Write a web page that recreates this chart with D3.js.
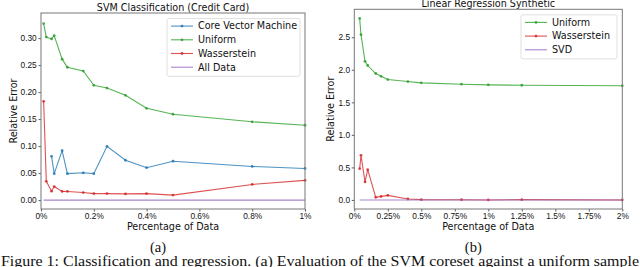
<!DOCTYPE html>
<html>
<head>
<meta charset="utf-8">
<script src="https://cdn.jsdelivr.net/npm/d3@7"></script>
<style>
  body { margin: 0; background: #fff; }
  svg { display: block; font-family: "DejaVu Sans", sans-serif; }
  .tick text { font-size: 8.3px; fill: #111; }
  .title, .axis-label, .legend-text { font-size: 9.6px; fill: #111; }
  .caption { font-family: "Liberation Serif", serif; font-size: 14.5px; fill: #111; }
</style>
</head>
<body>
<div id="chart"></div>
<script>
// ---- data: (a) SVM classification, credit card ----
const svmPct      = [0.01, 0.02, 0.04, 0.05, 0.08, 0.1, 0.16, 0.2, 0.25, 0.32, 0.4, 0.5, 0.8, 1.0];
const svmUniform  = [0.327, 0.302, 0.2985, 0.3045, 0.261, 0.246, 0.239, 0.2125, 0.2075, 0.194, 0.170, 0.159, 0.145, 0.1386];
const svmWass     = [0.183, 0.0348, 0.0165, 0.025, 0.016, 0.016, 0.014, 0.012, 0.012, 0.0115, 0.012, 0.0092, 0.029, 0.0366];
const svmAllData  = [0, 0, 0, 0, 0, 0, 0, 0, 0, 0, 0, 0, 0, 0];
const cvmPct      = [0.04, 0.05, 0.08, 0.1, 0.16, 0.2, 0.25, 0.32, 0.4, 0.5, 0.8, 1.0];
const cvmValues   = [0.081, 0.049, 0.0916, 0.049, 0.0505, 0.049, 0.0995, 0.0738, 0.060, 0.072, 0.0623, 0.0586];
const svmXTicks   = [0, 0.2, 0.4, 0.6, 0.8, 1.0];
const svmYTicks   = [0, 0.05, 0.10, 0.15, 0.20, 0.25, 0.30];

// ---- data: (b) linear regression, synthetic ----
const linPct      = [0.04, 0.05, 0.08, 0.1, 0.16, 0.2, 0.25, 0.4, 0.5, 0.8, 1.0, 1.25, 2.0];
const linUniform  = [2.79, 2.54, 2.13, 2.066, 1.943, 1.90, 1.85, 1.82, 1.80, 1.779, 1.769, 1.763, 1.754];
const linWass     = [0.48, 0.686, 0.277, 0.466, 0.04, 0.055, 0.071, 0.015, 0.005, 0.003, 0.0, 0.005, 0.0];
const linSvd      = [0, 0, 0, 0, 0, 0, 0, 0, 0, 0, 0, 0, 0];
const linXTicks   = [0, 0.25, 0.5, 0.75, 1.0, 1.25, 1.5, 1.75, 2.0];
const linYTicks   = [0, 0.5, 1.0, 1.5, 2.0, 2.5];

const colours = { blue: "#1f77b4", green: "#2ca02c", red: "#d62728", purple: "#9467bd" };

const width = 640, height = 267;
const svg = d3.select("#chart").append("svg")
    .attr("width", width).attr("height", height);

const drawPanel = (p) => {
    const x = d3.scaleLinear().domain(p.xDomain).range([p.left, p.right]);
    const y = d3.scaleLinear().domain(p.yDomain).range([p.bottom, p.top]);
    const g = svg.append("g");

    // axes
    g.append("g")
        .attr("transform", `translate(0,${p.bottom})`)
        .call(d3.axisBottom(x).tickValues(p.xTicks).tickSize(2.5).tickPadding(2)
            .tickFormat(d => d3.format("~g")(d) + "%"))
        .call(a => a.select(".domain").remove());
    g.append("g")
        .attr("transform", `translate(${p.left},0)`)
        .call(d3.axisLeft(y).tickValues(p.yTicks).tickSize(2.5).tickPadding(1.8)
            .tickFormat(d3.format(p.yFormat)))
        .call(a => a.select(".domain").remove());
    g.selectAll(".tick line").attr("stroke", "#333").attr("stroke-width", 0.8);

    // series
    const line = d3.line().x(d => x(d[0])).y(d => y(d[1]));
    p.series.forEach(s => {
        const pts = d3.zip(s.x, s.y);
        g.append("path").datum(pts)
            .attr("d", line)
            .attr("fill", "none")
            .attr("stroke", s.colour)
            .attr("stroke-opacity", 0.8)
            .attr("stroke-width", 1.1);
        if (s.markers) {
            g.selectAll(null).data(pts).join("circle")
                .attr("cx", d => x(d[0])).attr("cy", d => y(d[1]))
                .attr("r", 1.4)
                .attr("fill", s.colour).attr("fill-opacity", 0.85);
        }
    });

    // frame
    g.append("rect")
        .attr("x", p.left).attr("y", p.top)
        .attr("width", p.right - p.left).attr("height", p.bottom - p.top)
        .attr("fill", "none").attr("stroke", "#777").attr("stroke-width", 1);

    // titles and labels
    const cx = (p.left + p.right) / 2;
    g.append("text").attr("class", "title")
        .attr("x", cx).attr("y", p.titleY).attr("text-anchor", "middle").text(p.title);
    g.append("text").attr("class", "axis-label")
        .attr("x", cx).attr("y", 230).attr("text-anchor", "middle").text("Percentage of Data");
    g.append("text").attr("class", "axis-label")
        .attr("transform", `translate(${p.yLabelX},${(p.top + p.bottom) / 2}) rotate(-90)`)
        .attr("text-anchor", "middle").attr("dy", "0.35em").text("Relative Error");
    g.append("text").attr("class", "caption")
        .attr("x", cx - 15).attr("y", 251.5).attr("text-anchor", "middle").text(p.caption);

    // legend
    const L = p.legend;
    const rowH = 13.7;
    g.append("rect")
        .attr("x", L.x).attr("y", L.y)
        .attr("width", L.w).attr("height", rowH * p.series.length + 3)
        .attr("rx", 2).attr("fill", "#fff").attr("fill-opacity", 0.8)
        .attr("stroke", "#d8d8d8").attr("stroke-width", 0.8);
    p.series.forEach((s, i) => {
        const ry = L.y + 7.6 + i * rowH;
        g.append("line")
            .attr("x1", L.x + 4).attr("x2", L.x + 26)
            .attr("y1", ry).attr("y2", ry)
            .attr("stroke", s.colour).attr("stroke-opacity", 0.8).attr("stroke-width", 1.1);
        if (s.markers) {
            g.append("circle").attr("cx", L.x + 15).attr("cy", ry).attr("r", 1.4)
                .attr("fill", s.colour).attr("fill-opacity", 0.85);
        }
        g.append("text").attr("class", "legend-text")
            .attr("x", L.x + 31).attr("y", ry).attr("dy", "0.35em").text(s.name);
    });
};

drawPanel({
    title: "SVM Classification (Credit Card)", caption: "(a)",
    left: 41, right: 305, top: 13, bottom: 209, titleY: 10.5, yLabelX: 14,
    xDomain: [0, 1], yDomain: [-0.0165, 0.3465],
    xTicks: svmXTicks, yTicks: svmYTicks, yFormat: ".2f",
    legend: { x: 167, y: 18.5, w: 133 },
    series: [
        { name: "Core Vector Machine", x: cvmPct, y: cvmValues, colour: colours.blue, markers: true },
        { name: "Uniform", x: svmPct, y: svmUniform, colour: colours.green, markers: true },
        { name: "Wasserstein", x: svmPct, y: svmWass, colour: colours.red, markers: true },
        { name: "All Data", x: svmPct, y: svmAllData, colour: colours.purple, markers: false }
    ]
});

drawPanel({
    title: "Linear Regression Synthetic", caption: "(b)",
    left: 354.3, right: 622.3, top: 9.3, bottom: 209, titleY: 7, yLabelX: 330.5,
    xDomain: [0, 2], yDomain: [-0.139, 2.93],
    xTicks: linXTicks, yTicks: linYTicks, yFormat: ".1f",
    legend: { x: 521, y: 14.8, w: 96 },
    series: [
        { name: "Uniform", x: linPct, y: linUniform, colour: colours.green, markers: true },
        { name: "Wasserstein", x: linPct, y: linWass, colour: colours.red, markers: true },
        { name: "SVD", x: linPct, y: linSvd, colour: colours.purple, markers: false }
    ]
});

// figure caption, cut off by the bottom edge as in the source
svg.append("text").attr("class", "caption")
    .attr("x", 1).attr("y", 266)
    .attr("textLength", 638).attr("lengthAdjust", "spacingAndGlyphs")
    .text("Figure 1: Classification and regression. (a) Evaluation of the SVM coreset against a uniform sample");
</script>
</body>
</html>
